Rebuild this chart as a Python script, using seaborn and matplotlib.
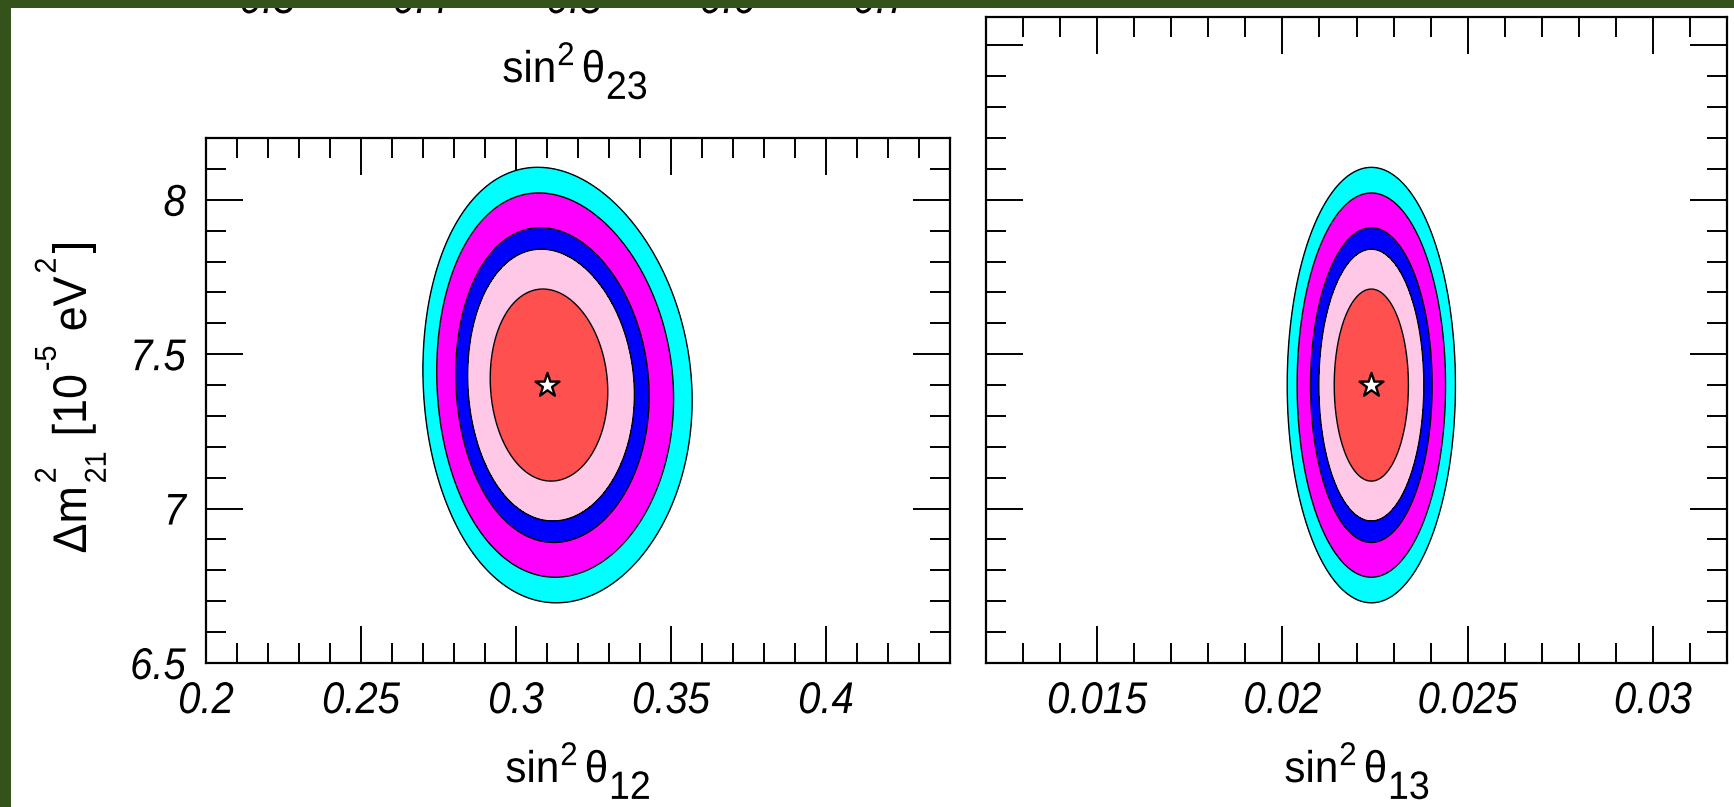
import numpy as np
import matplotlib
matplotlib.use("Agg")
import matplotlib.pyplot as plt
import seaborn as sns
from matplotlib.patches import Rectangle
from matplotlib.ticker import MultipleLocator
from matplotlib.transforms import Affine2D
from matplotlib.font_manager import FontProperties
from matplotlib import patheffects

# --- global-fit inputs -------------------------------------------------------
# best-fit point
best_s12 = 0.310
best_s13 = 0.0224
best_dm21 = 7.40          # 10^-5 eV^2

# 1-sigma widths and shape parameters of the chi^2 surface
sigma_s12 = 0.01247
curv_s12 = 1.79            # quadratic distortion along sin^2 theta12
sigma_s13 = 0.00066
sigma_dm21 = 0.205
rho_s12_dm21 = -0.07

# Delta chi^2 for 2 d.o.f.: 68.27%, 90%, 95.45%, 99%, 99.73% C.L.
delta_chi2 = [2.30, 4.61, 6.18, 9.21, 11.83]
region_colors = ["#ff5050", "#ffc8e6", "#0000ff", "#ff00ff", "#00ffff"]

# axes ranges and tick labels
s12_range = (0.20, 0.44)
s13_range = (0.012, 0.032)
dm21_range_left = (6.5, 8.2)
dm21_range_right = (6.5, 8.592)
s23_range = (0.26, 0.745)

s12_ticks = [0.2, 0.25, 0.3, 0.35, 0.4]
s12_labels = ["0.2", "0.25", "0.3", "0.35", "0.4"]
s13_ticks = [0.015, 0.02, 0.025, 0.03]
s13_labels = ["0.015", "0.02", "0.025", "0.03"]
dm21_ticks = [6.5, 7.0, 7.5, 8.0]
dm21_labels = ["6.5", "7", "7.5", "8"]
s23_ticks = [0.3, 0.4, 0.5, 0.6, 0.7]
s23_labels = ["0.3", "0.4", "0.5", "0.6", "0.7"]

# --- style -------------------------------------------------------------------
sns.set_theme(style="ticks")
FAMILY = ["Liberation Sans", "DejaVu Sans"]
plt.rcParams["font.family"] = FAMILY
for key in ("text.color", "axes.labelcolor", "xtick.color", "ytick.color"):
    plt.rcParams[key] = "black"
plt.rcParams["axes.linewidth"] = 1.6

W, H = 1734, 807
fig = plt.figure(figsize=(W / 100, H / 100), dpi=100)
fig.patch.set_facecolor("white")

TICK_FS = 32
TICK_SX = 0.9
LABEL_FS = 32
LABEL_SX = 0.95


class Condense(patheffects.AbstractPathEffect):
    """Narrow the glyphs horizontally (in the text's own frame)."""

    def __init__(self, sx, anchor="left"):
        super().__init__()
        self._sx = sx
        self._anchor = anchor

    def draw_path(self, renderer, gc, tpath, affine, rgbFace=None):
        if self._anchor == "left":
            cx = 0.0
        else:
            ext = tpath.get_extents()
            cx = 0.5 * (ext.x0 + ext.x1) if self._anchor == "center" else ext.x1
        t = Affine2D().translate(-cx, 0).scale(self._sx, 1).translate(cx, 0) + affine
        renderer.draw_path(gc, tpath, t, rgbFace)


def composed_label(anchor_x, anchor_y, groups, size=LABEL_FS, sx=LABEL_SX, rotation=0):
    """Write a label from pieces with raised / lowered parts.

    anchor_x, anchor_y: centre of the label on its baseline, in pixels from the
    top-left corner.  Each group is (gap_em, [(text, scale, shift_em), ...]);
    items of one group share the same start (stacked super/subscripts).
    """
    renderer = fig.canvas.get_renderer()
    em = size * fig.dpi / 72.0
    laid = []
    total = 0.0
    for gap, items in groups:
        widths = []
        for text, scale, shift in items:
            fp = FontProperties(family=FAMILY, size=size * scale)
            w, _, _ = renderer.get_text_width_height_descent(text, fp, ismath=False)
            widths.append(w * sx)
        adv = max(widths)
        laid.append((gap * em, items, adv))
        total += gap * em + adv
    pos = -total / 2.0
    for gap, items, adv in laid:
        pos += gap
        for text, scale, shift in items:
            if rotation == 0:
                x, y = anchor_x + pos, anchor_y - shift * em
            else:
                x, y = anchor_x - shift * em, anchor_y - pos
            fig.text(x / W, (H - y) / H, text, fontsize=size * scale,
                     rotation=rotation, rotation_mode="anchor",
                     ha="left", va="baseline", color="black",
                     path_effects=[Condense(sx, "left")])
        pos += adv


def px_axes(left, top, right, bottom):
    return [left / W, (H - bottom) / H, (right - left) / W, (bottom - top) / H]


def style_ticks(ax, xminor, yminor):
    ax.xaxis.set_minor_locator(MultipleLocator(xminor))
    ax.yaxis.set_minor_locator(MultipleLocator(yminor))
    ax.tick_params(which="both", direction="in", top=True, right=True,
                   color="black", width=1.4, labelcolor="black")
    ax.tick_params(which="major", length=26.5)
    ax.tick_params(which="minor", length=14.5)
    ax.tick_params(axis="x", which="major", pad=13.0, labelsize=TICK_FS)
    ax.tick_params(axis="y", which="major", pad=14.5, labelsize=TICK_FS)
    for s in ax.spines.values():
        s.set_visible(True)
        s.set_color("black")
        s.set_linewidth(1.6)


def condense_ticklabels(labels, anchor):
    for t in labels:
        t.set_path_effects([Condense(TICK_SX, anchor)])


def chi2_s12(x, y):
    dx = x - best_s12
    u = (dx - curv_s12 * dx ** 2) / sigma_s12
    v = (y - best_dm21) / sigma_dm21
    r = rho_s12_dm21
    return (u ** 2 - 2 * r * u * v + v ** 2) / (1 - r ** 2)


def chi2_s13(x, y):
    u = (x - best_s13) / sigma_s13
    v = (y - best_dm21) / sigma_dm21
    return u ** 2 + v ** 2


def draw_regions(ax, f, xr, yr):
    xs = np.linspace(xr[0], xr[1], 900)
    ys = np.linspace(yr[0], yr[1], 900)
    X, Y = np.meshgrid(xs, ys)
    Z = f(X, Y)
    levels = [0.0] + delta_chi2
    ax.contourf(X, Y, Z, levels=levels, colors=region_colors, zorder=1)
    ax.contour(X, Y, Z, levels=delta_chi2, colors="black", linewidths=1.0, zorder=2)


def best_fit_star(ax, x, y):
    sns.scatterplot(x=[x], y=[y], marker="*", s=330, color="white",
                    edgecolor="black", linewidth=1.7, zorder=5, ax=ax, legend=False)


# --- left panel: sin^2 theta12 vs Delta m^2_21 --------------------------------
axL = fig.add_axes(px_axes(206, 138, 950, 663))
draw_regions(axL, chi2_s12, s12_range, dm21_range_left)
best_fit_star(axL, best_s12, best_dm21)
axL.set_xlim(*s12_range)
axL.set_ylim(*dm21_range_left)
axL.set_xticks(s12_ticks)
condense_ticklabels(axL.set_xticklabels(s12_labels, style="italic"), "center")
axL.set_yticks(dm21_ticks)
condense_ticklabels(axL.set_yticklabels(dm21_labels, style="italic"), "right")
style_ticks(axL, 0.01, 0.1)

# --- right panel: sin^2 theta13 vs Delta m^2_21 -------------------------------
axR = fig.add_axes(px_axes(986, 17, 1727, 663))
draw_regions(axR, chi2_s13, s13_range, dm21_range_right)
best_fit_star(axR, best_s13, best_dm21)
axR.set_xlim(*s13_range)
axR.set_ylim(*dm21_range_right)
axR.set_xticks(s13_ticks)
condense_ticklabels(axR.set_xticklabels(s13_labels, style="italic"), "center")
axR.set_yticks(np.arange(6.5, 8.51, 0.5))
style_ticks(axR, 0.001, 0.1)
axR.tick_params(axis="y", labelleft=False)

# --- panel above (only its lower edge falls inside the figure) ---------------
axT = fig.add_axes([206 / W, 844 / H, 744 / W, 0.25])
axT.set_xlim(*s23_range)
axT.set_xticks(s23_ticks)
condense_ticklabels(axT.set_xticklabels(s23_labels, style="italic"), "center")
axT.set_yticks([])
axT.tick_params(axis="x", direction="in", pad=13.0, labelsize=TICK_FS, length=0,
                labelcolor="black")
axT.patch.set_visible(False)
for s in axT.spines.values():
    s.set_visible(False)

# --- axis titles ---------------------------------------------------------------
def sin2_theta(sub):
    return [
        (0.0, [("sin", 1.0, 0.0)]),
        (0.02, [("2", 0.74, 0.38)]),
        (0.16, [("θ", 1.0, 0.0)]),
        (0.02, [(sub, 0.89, -0.38)]),
    ]


composed_label(578, 782, sin2_theta("12"))
composed_label(1357, 782, sin2_theta("13"))
composed_label(575, 82, sin2_theta("23"))

dm_title = [
    (0.0, [("Δm", 1.0, 0.0)]),
    (0.06, [("2", 0.64, 0.64), ("21", 0.64, -0.42)]),
    (0.32, [("[10", 1.0, 0.0)]),
    (0.06, [("-5", 0.64, 0.64)]),
    (0.30, [("eV", 1.0, 0.0)]),
    (0.06, [("2", 0.64, 0.64)]),
    (0.10, [("]", 1.0, 0.0)]),
]
composed_label(86, 397, dm_title, size=34, rotation=90)

# slide background framing the figure
green = "#35521a"
fig.add_artist(Rectangle((0, 0), 11 / W, 1, transform=fig.transFigure,
                         facecolor=green, edgecolor="none", zorder=50))
fig.add_artist(Rectangle((0, 1 - 8 / H), 1, 8 / H, transform=fig.transFigure,
                         facecolor=green, edgecolor="none", zorder=50))

fig.savefig("out.png", dpi=100, facecolor="white")
